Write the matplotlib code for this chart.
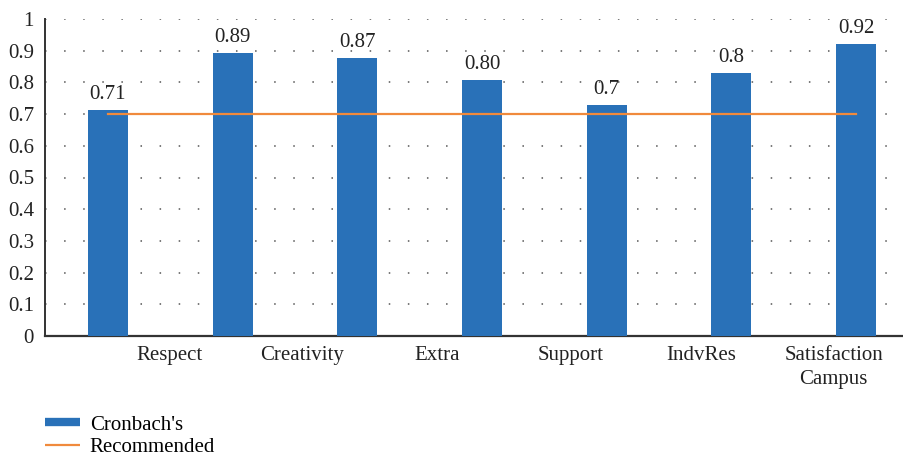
import numpy as np
from matplotlib import pyplot as plt
from matplotlib.lines import Line2D

# data
categories = ["Respect", "Creativity", "Extra", "Support", "IndvRes", "Satisfaction\nCampus"]
cronbach = [0.713, 0.894, 0.877, 0.808, 0.729, 0.830, 0.921]
value_labels = ["0.71", "0.89", "0.87", "0.80", "0.7", "0.8", "0.92"]
recommended = [0.7, 0.7, 0.7, 0.7, 0.7, 0.7, 0.7]
label_pos = [0.49, 1.556, 2.64, 3.71, 4.76, 5.82]

blue = '#2971b8'
orange = '#f08a3c'

plt.rcParams['font.family'] = ['Liberation Serif', 'DejaVu Serif']
plt.rcParams['font.size'] = 15

fig = plt.figure(figsize=(9.04, 4.59), dpi=100)
ax = fig.add_axes([45 / 904, 1 - 336 / 459, 858 / 904, 317 / 459])

x = np.arange(len(cronbach))
ax.bar(x, cronbach, width=0.32, color=blue, zorder=3)
ax.plot(x, recommended, color=orange, lw=1.6, zorder=4)

for xi, h, t in zip(x, cronbach, value_labels):
    ax.annotate(t, (xi, h), xytext=(0, 4), textcoords='offset points',
                ha='center', va='bottom', color='#222222', fontsize=15)

ax.set_ylim(0, 1)
ax.set_xlim(-0.505, 6.377)
ax.set_yticks(np.arange(0, 1.01, 0.1))
ax.set_yticklabels(["0", "0.1", "0.2", "0.3", "0.4", "0.5", "0.6", "0.7", "0.8", "0.9", "1"])
ax.set_xticks(label_pos)
ax.set_xticklabels(categories, linespacing=1.4)
ax.tick_params(axis='both', length=0, colors='#222222')
ax.tick_params(axis='y', pad=8)
ax.tick_params(axis='x', pad=7)

ax.yaxis.grid(True, linestyle=(0, (1, 11.5)), color='#555555', lw=1.1, zorder=0)
ax.spines['top'].set_visible(False)
ax.spines['right'].set_visible(False)
ax.spines['left'].set_color('#333333')
ax.spines['left'].set_linewidth(1.4)
ax.spines['bottom'].set_color('#333333')
ax.spines['bottom'].set_linewidth(1.6)

handles = [Line2D([], [], color=blue, lw=6, solid_capstyle='butt'),
           Line2D([], [], color=orange, lw=1.6, solid_capstyle='butt')]
fig.legend(handles, ["Cronbach's", "Recommended"], loc='upper left',
           bbox_to_anchor=(45 / 904, 1 - 415 / 459), frameon=False,
           handlelength=1.7, handletextpad=0.45, labelspacing=0.15,
           borderpad=0, borderaxespad=0, fontsize=15)

plt.savefig("out.png", dpi=100)
